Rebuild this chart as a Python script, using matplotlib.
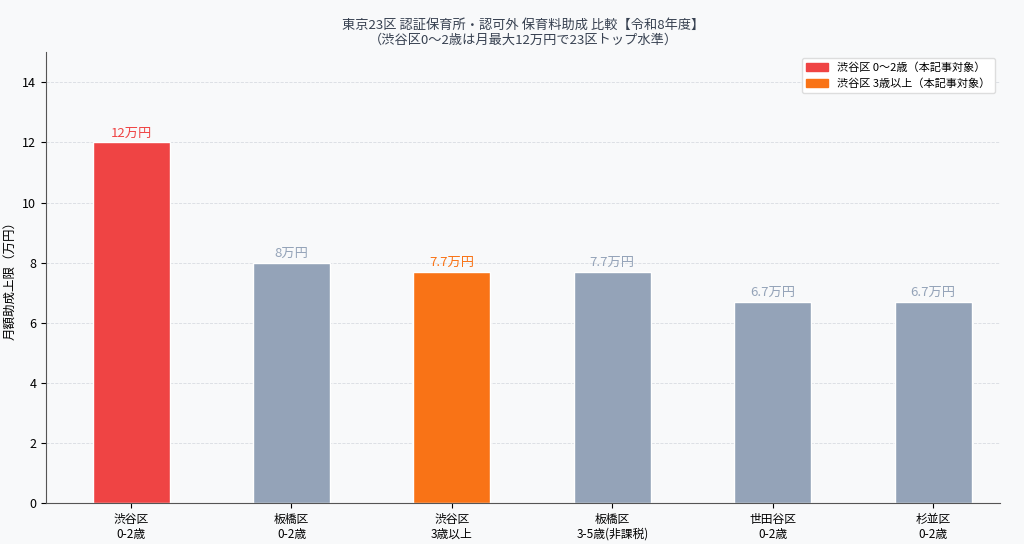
import matplotlib
matplotlib.use("Agg")
import matplotlib.pyplot as plt
from matplotlib.patches import Patch

plt.rcParams['font.family'] = ['Noto Sans CJK JP', 'DejaVu Sans']

# Daten
categories = ["渋谷区\n0-2歳", "板橋区\n0-2歳", "渋谷区\n3歳以上", "板橋区\n3-5歳(非課税)", "世田谷区\n0-2歳", "杉並区\n0-2歳"]
values = [12, 8, 7.7, 7.7, 6.7, 6.7]
labels = ["12万円", "8万円", "7.7万円", "7.7万円", "6.7万円", "6.7万円"]
colors = ["#ef4444", "#94a3b8", "#f97316", "#94a3b8", "#94a3b8", "#94a3b8"]

fig, ax = plt.subplots(figsize=(10.24, 5.44), dpi=100)
fig.patch.set_facecolor("#f8f9fa")
ax.set_facecolor("#f8f9fa")

x = range(len(categories))
ax.bar(x, values, width=0.48, color=colors, edgecolor="white", linewidth=1)
for i, (v, lab, c) in enumerate(zip(values, labels, colors)):
    ax.text(i, v + 0.1, lab, ha="center", va="bottom", fontsize=9.5, color=c)

ax.set_xticks(list(x))
ax.set_xticklabels(categories, fontsize=8.5)
ax.tick_params(axis="y", labelsize=9)
ax.set_ylim(0, 15)
ax.set_yticks(range(0, 15, 2))
ax.set_xlim(-0.53, 5.42)
ax.set_ylabel("月額助成上限（万円）", fontsize=9)
ax.grid(axis="y", color="#d1d5db", linestyle="--", linewidth=0.6, alpha=0.8)
ax.set_axisbelow(True)
for s in ["top", "right"]:
    ax.spines[s].set_visible(False)
for s in ["left", "bottom"]:
    ax.spines[s].set_color("#555555")

ax.set_title("東京23区 認証保育所・認可外 保育料助成 比較【令和8年度】\n（渋谷区0〜2歳は月最大12万円で23区トップ水準）",
             fontsize=9.5, color="#374151")

handles = [Patch(color="#ef4444", label="渋谷区 0〜2歳（本記事対象）"),
           Patch(color="#f97316", label="渋谷区 3歳以上（本記事対象）")]
ax.legend(handles=handles, loc="upper right", fontsize=8, framealpha=1, edgecolor="#dddddd")

plt.subplots_adjust(left=0.045, right=0.977, top=0.904, bottom=0.075)
plt.savefig("out.png", dpi=100, facecolor=fig.get_facecolor())
